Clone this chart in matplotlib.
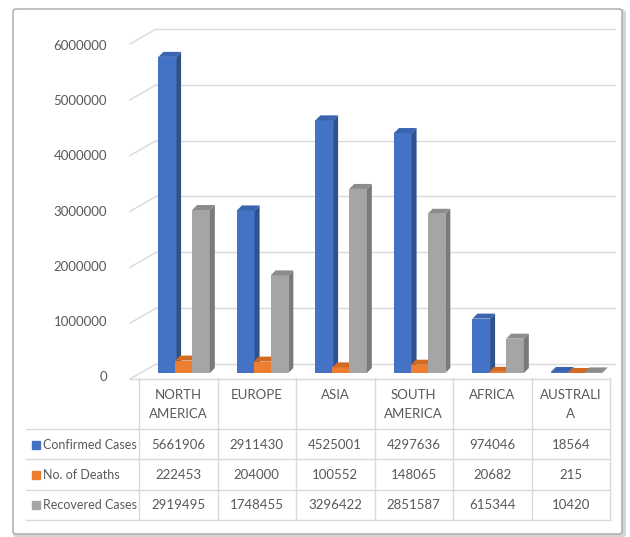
import matplotlib.pyplot as plt
from matplotlib.patches import Polygon, FancyBboxPatch, Rectangle
import numpy as np

regions = ['NORTH\nAMERICA', 'EUROPE', 'ASIA', 'SOUTH\nAMERICA', 'AFRICA', 'AUSTRALI\nA']
series = ['Confirmed Cases', 'No. of Deaths', 'Recovered Cases']
confirmed = [5661906, 2911430, 4525001, 4297636, 974046, 18564]
deaths = [222453, 204000, 100552, 148065, 20682, 215]
recovered = [2919495, 1748455, 3296422, 2851587, 615344, 10420]
yticks = [0, 1000000, 2000000, 3000000, 4000000, 5000000, 6000000]

values = [confirmed, deaths, recovered]
front = ['#4472C4', '#ED7D31', '#A5A5A5']
side = ['#2F528F', '#B65A1E', '#7A7A7A']
top = ['#3A63B0', '#D46A22', '#8C8C8C']

plt.rcParams['font.family'] = ['Lato', 'DejaVu Sans']
txt = '#595959'
grid = '#D9D9D9'
fs = 9.5

W, H = 630, 537
fig = plt.figure(figsize=(W / 100, H / 100), dpi=100)

# overlay axes in pixel coordinates for frame and table
bg = fig.add_axes([0, 0, 1, 1])
bg.set_xlim(0, W)
bg.set_ylim(H, 0)
bg.axis('off')
bg.add_patch(FancyBboxPatch((15, 11), 609, 525, boxstyle='round,pad=0,rounding_size=3',
                            fc='none', ec='#D5D5D5', lw=3, zorder=0))
bg.add_patch(FancyBboxPatch((13, 9), 609, 525, boxstyle='round,pad=0,rounding_size=3',
                            fc='white', ec='#A6A6A6', lw=1, zorder=1))

x0, x1 = 139, 610
y0, y1 = 373, 38
ax = fig.add_axes([x0 / W, 1 - y0 / H, (x1 - x0) / W, (y0 - y1) / H])
ax.set_xlim(-0.5, 5.5)
ax.set_ylim(0, 6000000)
ax.patch.set_alpha(0)
for s in ax.spines.values():
    s.set_visible(False)
ax.set_xticks([])
ax.set_yticks([])

# pixel -> data unit conversion
ux = 6 / (x1 - x0)
uy = 6000000 / (y0 - y1)

# value axis labels (front of the 3D box, slightly below the back wall)
for v in yticks:
    shift = 4 + 4 * v / 6000000
    ax.text(-0.5 - 32 * ux, v - shift * uy, str(v), ha='right', va='center', color=txt, fontsize=fs)

# back wall gridlines and left wall
bdx, bdy = 17, 9
for v in yticks:
    ax.plot([-0.5 + bdx * ux, 5.5 + 5 * ux], [v + bdy * uy, v + bdy * uy], color=grid, lw=1, zorder=0,
            clip_on=False)
    ax.plot([-0.5 - 9 * ux, -0.5 + bdx * ux], [v - 6 * uy, v + bdy * uy], color=grid, lw=1, zorder=0,
            clip_on=False)
ax.plot([-0.5 - 9 * ux, 5.5], [-6 * uy, -6 * uy], color=grid, lw=1, zorder=0, clip_on=False)

offsets = [-0.14, 0.075, 0.29]
bw = 0.225
d = 5
for k in range(3):
    xs = np.arange(len(regions)) + offsets[k]
    ax.bar(xs, values[k], width=bw, color=front[k], zorder=2 + k)
    for xc, v in zip(xs, values[k]):
        l, r = xc - bw / 2, xc + bw / 2
        ax.add_patch(Polygon([(r, 0), (r + d * ux, d * uy), (r + d * ux, v + d * uy), (r, v)],
                             closed=True, fc=side[k], ec='none', zorder=2 + k))
        ax.add_patch(Polygon([(l, v), (l + d * ux, v + d * uy), (r + d * ux, v + d * uy), (r, v)],
                             closed=True, fc=top[k], ec='none', zorder=2 + k))

# data table
colw = (x1 - x0) / len(regions)
for i in range(len(regions) + 1):
    bg.plot([x0 + i * colw] * 2, [378, 520], color=grid, lw=1, zorder=2)
for yy in [429, 459, 490, 520]:
    bg.plot([26, x1], [yy, yy], color=grid, lw=1, zorder=2)
for i, name in enumerate(regions):
    cx = x0 + (i + 0.5) * colw
    bg.text(cx, 389, name, ha='center', va='top', color=txt, fontsize=fs, linespacing=1.65, zorder=3)
rows_y = [445, 475, 505]
for k in range(3):
    bg.add_patch(Rectangle((32, rows_y[k] - 4), 8, 8, color=front[k], zorder=3))
    bg.text(43, rows_y[k], series[k], ha='left', va='center', color=txt, fontsize=9, zorder=3)
    for i, v in enumerate(values[k]):
        bg.text(x0 + (i + 0.5) * colw, rows_y[k], str(v), ha='center', va='center',
                color=txt, fontsize=fs, zorder=3)

fig.savefig('out.png', dpi=100)
